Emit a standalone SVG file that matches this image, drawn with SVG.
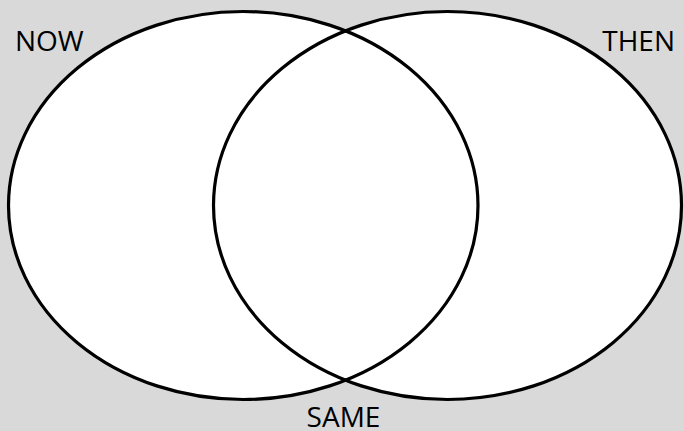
<svg xmlns="http://www.w3.org/2000/svg" width="684" height="431" viewBox="0 0 684 431">
<style>
.set{fill:none;stroke:#000;stroke-width:3.2}
.lbl{font-family:"Open Sans","Liberation Sans",sans-serif;font-size:28px;fill:#000}
</style>
<rect x="0" y="0" width="684" height="431" fill="#d9d9d9"/>
<g id="fills">
<ellipse cx="243.25" cy="205.5" rx="234.75" ry="194" fill="#fff"/>
<ellipse cx="447.5" cy="205.5" rx="234" ry="194" fill="#fff"/>
</g>
<g id="now">
<ellipse class="set" cx="243.25" cy="205.5" rx="234.75" ry="194"/>
<text class="lbl" x="15" y="51">NOW</text>
</g>
<g id="then">
<ellipse class="set" cx="447.5" cy="205.5" rx="234" ry="194"/>
<text class="lbl" x="675" y="51" text-anchor="end">THEN</text>
</g>
<g id="same">
<text class="lbl" x="343.5" y="427" text-anchor="middle">SAME</text>
</g>
</svg>
